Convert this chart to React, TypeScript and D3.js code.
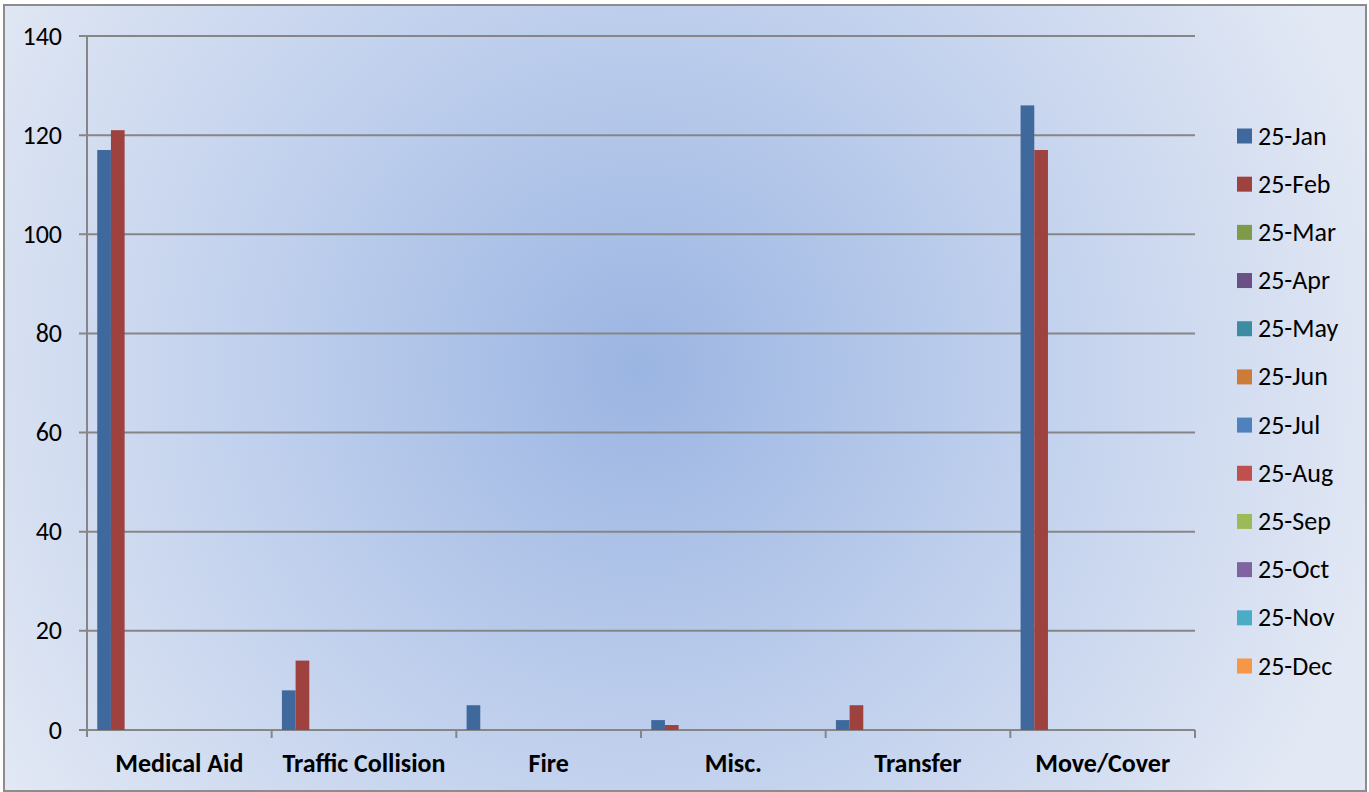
import React from "react";
import * as d3 from "d3";

const categories = ["Medical Aid", "Traffic Collision", "Fire", "Misc.", "Transfer", "Move/Cover"];
const seriesNames = ["25-Jan", "25-Feb", "25-Mar", "25-Apr", "25-May", "25-Jun", "25-Jul", "25-Aug", "25-Sep", "25-Oct", "25-Nov", "25-Dec"];
const seriesColors = ["#3F689C", "#9E4240", "#7F9A48", "#695185", "#3C8DA3", "#CC7B38", "#4F81BD", "#C0504D", "#9BBB59", "#8064A2", "#4BACC6", "#F79646"];
const janValues = [117, 8, 5, 2, 2, 126];
const febValues = [121, 14, 0, 1, 5, 117];
const yTicks = [0, 20, 40, 60, 80, 100, 120, 140];

const seriesValues: (number | null)[][] = seriesNames.map((_, i) =>
  i === 0 ? janValues : i === 1 ? febValues : categories.map(() => null)
);

export default function App() {
  const W = 1369, H = 792;
  const left = 87, right = 1195, top = 36, bottom = 730;
  const x0 = d3.scaleBand<string>().domain(categories).range([left, right]).paddingInner(0).paddingOuter(0);
  const y = d3.scaleLinear().domain([0, 140]).range([bottom, top]);
  const groupW = x0.bandwidth();
  const barW = groupW / 13.5;
  const x1 = d3.scaleBand<number>().domain(d3.range(12)).range([0.75 * barW, groupW - 0.75 * barW]);
  const font = "Calibri, Carlito, 'Open Sans', sans-serif";
  const legendY = d3.scaleLinear().domain([0, 11]).range([136, 666]);
  return (
    <svg width={W} height={H} style={{ position: "absolute", left: 0, top: 0, display: "block" }}>
      <defs>
        <radialGradient id="bg" cx="640" cy="370" r="760" gradientUnits="userSpaceOnUse">
          <stop offset="0" stopColor="#9BB5E2" />
          <stop offset="0.45" stopColor="#BCCDEC" />
          <stop offset="1" stopColor="#E2E8F4" />
        </radialGradient>
      </defs>
      <rect x={4} y={5} width={1362} height={786} fill="url(#bg)" stroke="#8C8C8C" strokeWidth={2} />
      {yTicks.map((t) => (
        <g key={t}>
          <line x1={79} x2={right} y1={y(t)} y2={y(t)} stroke="#868686" strokeWidth={2} />
          <text x={62} y={y(t)} dy="0.33em" textAnchor="end" fontFamily={font} fontSize={26} fill="#000">{t}</text>
        </g>
      ))}
      <line x1={left} x2={left} y1={top} y2={bottom + 7} stroke="#868686" strokeWidth={2} />
      {categories.map((c) => (
        <line key={c} x1={(x0(c) as number) + groupW} x2={(x0(c) as number) + groupW} y1={bottom} y2={bottom + 8} stroke="#868686" strokeWidth={2} />
      ))}
      {seriesValues.map((vals, si) =>
        vals.map((v, ci) =>
          v == null || v === 0 ? null : (
            <rect key={`${si}-${ci}`} x={(x0(categories[ci]) as number) + (x1(si) as number)} y={y(v)} width={x1.bandwidth()} height={y(0) - y(v)} fill={seriesColors[si]} />
          )
        )
      )}
      {categories.map((c) => (
        <text key={c} x={(x0(c) as number) + groupW / 2} y={772} textAnchor="middle" fontFamily={font} fontSize={26} fontWeight="bold" fill="#000">{c}</text>
      ))}
      {seriesNames.map((n, i) => (
        <g key={n}>
          <rect x={1237} y={legendY(i) - 7.5} width={15} height={15} fill={seriesColors[i]} />
          <text x={1258} y={legendY(i)} dy="0.33em" fontFamily={font} fontSize={26} fill="#000">{n}</text>
        </g>
      ))}
    </svg>
  );
}
